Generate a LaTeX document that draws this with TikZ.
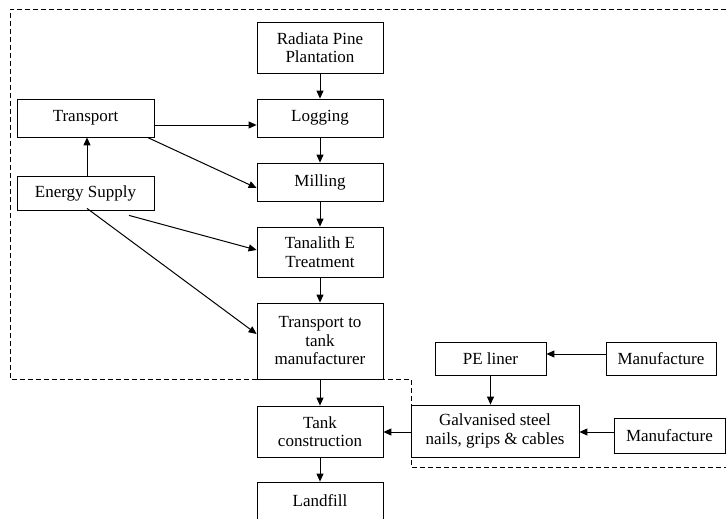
\documentclass[tikz,border=0pt]{standalone}
\usepackage{fontspec}
\setmainfont{Liberation Serif}
\usetikzlibrary{arrows.meta}

\begin{document}
\begin{tikzpicture}[x=1pt, y=-1pt,
  box/.style={draw, line width=0.8pt, inner sep=0pt, align=center,
    font=\fontsize{17}{18.5}\selectfont},
  flow/.style={line width=1pt, -{Triangle[length=8pt,width=7pt]}},
  boundary/.style={line width=0.8pt, dash pattern=on 5pt off 3pt}]
\clip (0,0) rectangle (726,519);
% system boundary
\draw [boundary] (726,9) -- (10,9) -- (10,379) -- (411,379) -- (411,467) -- (726,467);
% main chain
\node [box, minimum width=126pt, minimum height=51pt] (pine) at (320,47.5) {Radiata Pine\\Plantation};
\node [box, minimum width=126pt, minimum height=38pt] (logging) at (320,118) {Logging};
\node [box, minimum width=126pt, minimum height=38pt] (milling) at (320,182) {Milling};
\node [box, minimum width=126pt, minimum height=50pt] (tanalith) at (320,252) {Tanalith E\\Treatment};
\node [box, minimum width=126pt, minimum height=76pt] (totank) at (320,341) {Transport to\\tank\\manufacturer};
\node [box, minimum width=126pt, minimum height=51pt] (tank) at (320,431.5) {Tank\\construction};
\node [box, minimum width=126pt, minimum height=38pt] (landfill) at (320,501) {Landfill};
% inputs on the left
\node [box, minimum width=137pt, minimum height=38pt] (transport) at (85.5,118) {Transport};
\node [box, minimum width=137pt, minimum height=34pt] (energy) at (85.5,193) {Energy Supply};
% inputs on the right
\node [box, minimum width=111pt, minimum height=33pt] (liner) at (490.5,358.5) {PE liner};
\node [box, minimum width=110pt, minimum height=33pt] (makeliner) at (661,358.5) {Manufacture};
\node [box, minimum width=168pt, minimum height=52pt] (steel) at (495,431) {Galvanised steel\\nails, grips \& cables};
\node [box, minimum width=111pt, minimum height=35pt] (makesteel) at (669.5,435.5) {Manufacture};

\draw [flow] (pine) -- (logging);
\draw [flow] (logging) -- (milling);
\draw [flow] (milling) -- (tanalith);
\draw [flow] (tanalith) -- (totank);
\draw [flow] (totank) -- (tank);
\draw [flow] (tank) -- (landfill);
\draw [flow] ([yshift=-7pt]transport.east) -- ([yshift=-7pt]logging.west);
\draw [flow] ([xshift=-7pt]transport.south east) -- ([yshift=-6pt]milling.west);
\draw [flow] ([xshift=1.5pt]energy.north) -- ([xshift=1.5pt]transport.south);
\draw [flow] ([xshift=43.5pt,yshift=-5pt]energy.south) -- ([yshift=2pt]tanalith.west);
\draw [flow] ([xshift=1.5pt,yshift=2pt]energy.south) -- ([yshift=7pt]totank.west);
\draw [flow] ([yshift=4.5pt]makeliner.west) -- ([yshift=4.5pt]liner.east);
\draw [flow] (liner.south) -- (liner.south |- steel.north);
\draw [flow] ([yshift=3.5pt]makesteel.west) -- ([yshift=-1pt]steel.east);
\draw [flow] ([yshift=-1pt]steel.west) -- ([yshift=-0.5pt]tank.east);
\end{tikzpicture}
\end{document}
